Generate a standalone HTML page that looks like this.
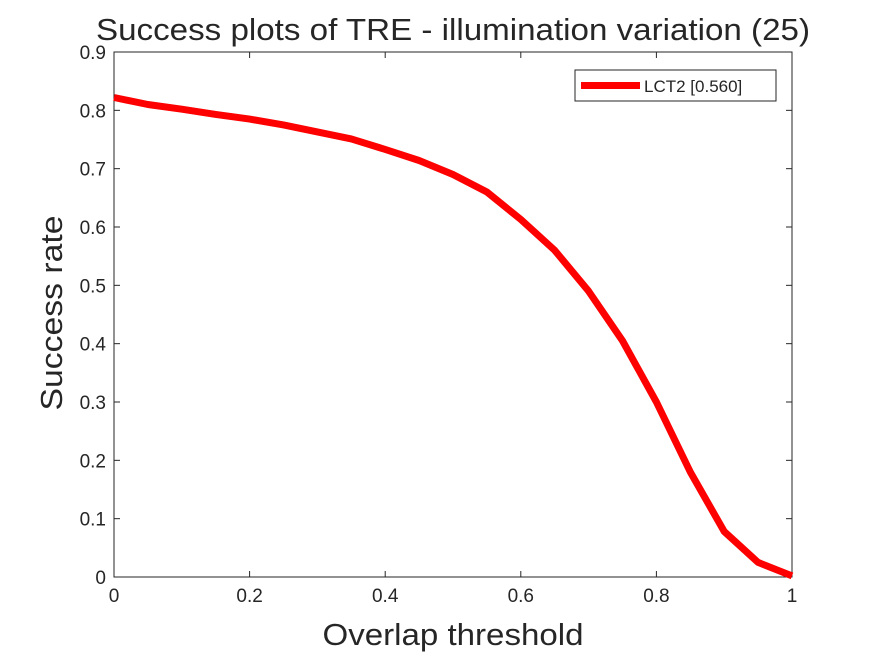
<!DOCTYPE html>
<html><head><meta charset="utf-8"><style>
body{margin:0;background:#fff;}
svg text{font-family:"Liberation Sans",sans-serif;fill:#262626;}
</style></head><body>
<svg id="chart" width="875" height="656" xmlns="http://www.w3.org/2000/svg">
<rect width="875" height="656" fill="#fff"/>
<g id="axes"></g>
<g id="series"></g>
<text x="453" y="40" font-size="31" text-anchor="middle" textLength="714" lengthAdjust="spacingAndGlyphs">Success plots of TRE - illumination variation (25)</text>
<text x="453" y="645" font-size="31" text-anchor="middle" textLength="261" lengthAdjust="spacingAndGlyphs">Overlap threshold</text>
<text transform="translate(62,313) rotate(-90)" font-size="31" text-anchor="middle" textLength="195" lengthAdjust="spacingAndGlyphs">Success rate</text>
<g>
<rect x="575" y="70" width="201" height="31" fill="#fff" stroke="#262626" stroke-width="1"/>
<line x1="581" y1="85.5" x2="640" y2="85.5" stroke="#f00" stroke-width="7"/>
<text x="644" y="92" font-size="17">LCT2 [0.560]</text>
</g>
</svg>
<script>
const thresholds=[0,0.05,0.1,0.15,0.2,0.25,0.3,0.35,0.4,0.45,0.5,0.55,0.6,0.65,0.7,0.75,0.8,0.85,0.9,0.95,1];
const successRates=[0.822,0.81,0.802,0.793,0.785,0.775,0.763,0.751,0.733,0.714,0.690,0.660,0.613,0.560,0.490,0.405,0.300,0.180,0.078,0.025,0.002];
const xTicks=["0","0.2","0.4","0.6","0.8","1"];
const xTickVals=[0,0.2,0.4,0.6,0.8,1];
const yTickVals=[0,0.1,0.2,0.3,0.4,0.5,0.6,0.7,0.8,0.9];
const yTicks=["0","0.1","0.2","0.3","0.4","0.5","0.6","0.7","0.8","0.9"];
const L=114,R=792,T=52,B=577;
const xs=v=>L+(R-L)*v, ys=v=>B-(B-T)*v/0.9;
const NS="http://www.w3.org/2000/svg";
const axes=document.getElementById('axes'), series=document.getElementById('series');
function mk(tag,attrs,parent){const e=document.createElementNS(NS,tag);for(const k in attrs)e.setAttribute(k,attrs[k]);parent.appendChild(e);return e;}
const box=mk('rect',{x:L,y:T,width:R-L,height:B-T,fill:'none',stroke:'#262626','stroke-width':1},axes);


xTickVals.forEach((v,i)=>{
  const x=xs(v);
  mk('line',{x1:x,y1:B,x2:x,y2:B-6,stroke:'#262626'},axes);
  mk('line',{x1:x,y1:T,x2:x,y2:T+6,stroke:'#262626'},axes);
  const t=mk('text',{x:x,y:B+25,'font-size':19,'text-anchor':'middle'},axes);
  t.textContent=xTicks[i];
  
  
});
yTickVals.forEach((v,i)=>{
  const y=ys(v);
  mk('line',{x1:L,y1:y,x2:L+6,y2:y,stroke:'#262626'},axes);
  mk('line',{x1:R,y1:y,x2:R-6,y2:y,stroke:'#262626'},axes);
  const t=mk('text',{x:L-8,y:y+7,'font-size':19,'text-anchor':'end'},axes);
  t.textContent=yTicks[i];
  
  
});
const pts=thresholds.map((v,i)=>xs(v)+','+ys(successRates[i])).join(' ');
const line=mk('polyline',{points:pts,fill:'none',stroke:'#f00','stroke-width':7,'stroke-linejoin':'round'},series);


</script>
</body></html>
